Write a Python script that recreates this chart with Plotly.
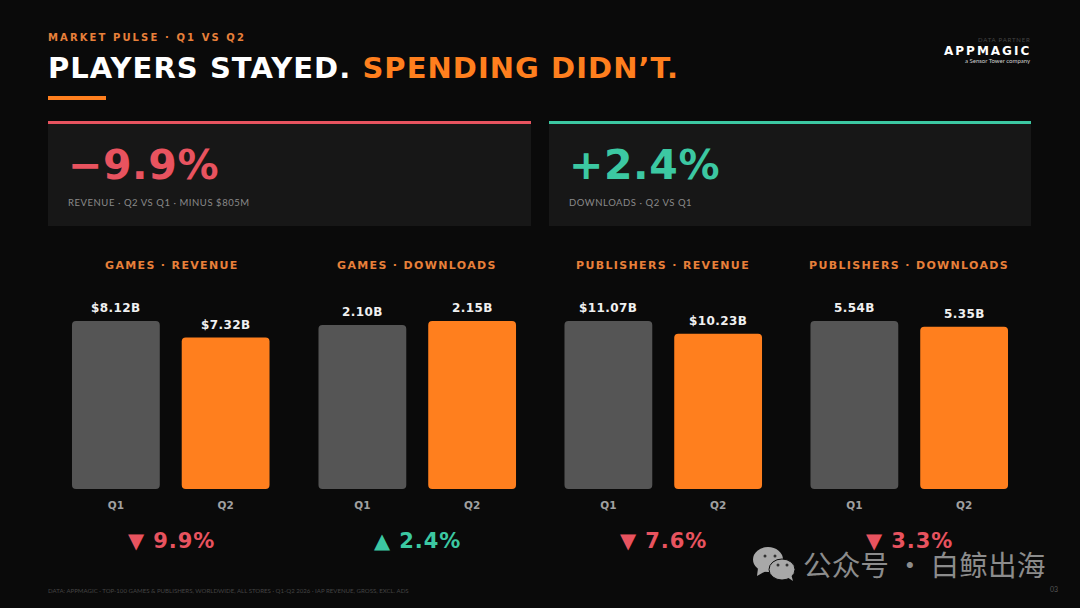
import plotly.graph_objects as go

W = 1080
H = 608

BG = "#0a0a0a"
CARD = "#171717"
ORANGE = "#ff7f1e"
GREY_BAR = "#555555"
RED = "#e8535f"
TEAL = "#3cc8a2"

quarters = ["Q1", "Q2"]
panel_titles = ["GAMES · REVENUE", "GAMES · DOWNLOADS", "PUBLISHERS · REVENUE", "PUBLISHERS · DOWNLOADS"]
games_revenue = [8.12, 7.32]
games_downloads = [2.10, 2.15]
publishers_revenue = [11.07, 10.23]
publishers_downloads = [5.54, 5.35]
games_revenue_labels = ["$8.12B", "$7.32B"]
games_downloads_labels = ["2.10B", "2.15B"]
publishers_revenue_labels = ["$11.07B", "$10.23B"]
publishers_downloads_labels = ["5.54B", "5.35B"]
delta_labels = ["▼ 9.9%", "▲ 2.4%", "▼ 7.6%", "▼ 3.3%"]

panels = [
    (games_revenue, games_revenue_labels, 61),
    (games_downloads, games_downloads_labels, 307.5),
    (publishers_revenue, publishers_revenue_labels, 553.5),
    (publishers_downloads, publishers_downloads_labels, 799.5),
]
PANEL_W = 219.5
BAR_TOP = 321
BAR_BOTTOM = 489


def px_x(x):
    return x / W


def px_y(y):
    return 1 - y / H


def tracked(text, spacing):
    return f'<span style="letter-spacing:{spacing}px">{text}</span>'


def note(x, y, text, size, color, anchor="left", family="DejaVu Sans", bold=True):
    return dict(
        x=px_x(x), y=px_y(y), xref="paper", yref="paper", text=text, showarrow=False,
        xanchor=anchor, yanchor="middle", borderpad=0,
        font=dict(family=family, size=size, color=color, weight="bold" if bold else "normal"),
    )


def box(x0, y0, x1, y1, color):
    return dict(type="rect", xref="paper", yref="paper", x0=px_x(x0), x1=px_x(x1),
                y0=px_y(y0), y1=px_y(y1), fillcolor=color, line_width=0, layer="below")


def dot(x0, y0, x1, y1, color, edge=None):
    return dict(type="circle", xref="paper", yref="paper", x0=px_x(x0), x1=px_x(x1),
                y0=px_y(y0), y1=px_y(y1), fillcolor=color,
                line=dict(color=edge or color, width=1 if edge else 0), layer="above")


def tail(points, color):
    path = "M " + " L ".join(f"{px_x(x)} {px_y(y)}" for x, y in points) + " Z"
    return dict(type="path", xref="paper", yref="paper", path=path, fillcolor=color,
                line_width=0, layer="above")


fig = go.Figure()
layout_axes = {}
annotations = []

for i, (values, labels, left) in enumerate(panels):
    suffix = "" if i == 0 else str(i + 1)
    # an explicit base makes plotly round both ends of the bar
    fig.add_trace(go.Bar(
        x=quarters, y=values, base=[0, 0],
        marker=dict(color=[GREY_BAR, ORANGE], cornerradius=4, line_width=0),
        xaxis="x" + suffix, yaxis="y" + suffix, showlegend=False,
    ))
    for quarter, value, label in zip(quarters, values, labels):
        annotations.append(dict(
            x=quarter, y=value, xref="x" + suffix, yref="y" + suffix, text=tracked(label, 0.4),
            showarrow=False, yanchor="middle", yshift=13,
            font=dict(family="DejaVu Sans", size=12, color="#f0f0f0", weight="bold"),
        ))
    layout_axes["xaxis" + suffix] = dict(
        domain=[px_x(left), px_x(left + PANEL_W)], anchor="y" + suffix,
        showgrid=False, zeroline=False, showline=False, ticks="", ticklen=0,
        ticklabelstandoff=8,
        tickfont=dict(family="DejaVu Sans", size=10.5, color="#a0a0a0", weight="bold"),
    )
    layout_axes["yaxis" + suffix] = dict(
        domain=[px_y(BAR_BOTTOM), px_y(BAR_TOP)], anchor="x" + suffix,
        range=[0, max(values)], visible=False,
    )

shapes = [
    box(48, 96, 106, 100, ORANGE),
    box(48, 124, 531, 226, CARD),
    box(48, 121, 531, 124, RED),
    box(549, 124, 1031, 226, CARD),
    box(549, 121, 1031, 124, TEAL),
]

annotations += [
    note(47, 37.5, tracked("MARKET PULSE · Q1 VS Q2", 2.1), 10, "#e8803a"),
    note(47, 68, tracked('PLAYERS STAYED. <span style="color:#ff7f1e">SPENDING DIDN’T.</span>', 1.05), 29, "#ffffff"),
    note(67, 165, tracked("−9.9%", 0.6), 41, RED),
    note(67, 202, tracked("REVENUE · Q2 VS Q1 · MINUS $805M", 0.55), 9.5, "#8a8a8a", family="Lato", bold=False),
    note(568, 165, tracked("+2.4%", 0.6), 41, TEAL),
    note(568, 202, tracked("DOWNLOADS · Q2 VS Q1", 0.55), 9.5, "#8a8a8a", family="Lato", bold=False),
    note(1032, 40, tracked("DATA PARTNER", 0.8), 6, "#444444", anchor="right", family="Lato", bold=False),
    note(1032, 51, tracked("APPMAGIC", 2), 12, "#ffffff", anchor="right"),
    note(1032, 60, "a Sensor Tower company", 6, "#d0d0d0", anchor="right", family="Lato", bold=False),
    note(47, 590, "DATA: APPMAGIC · TOP-100 GAMES & PUBLISHERS, WORLDWIDE, ALL STORES · Q1-Q2 2026 · IAP REVENUE, GROSS, EXCL. ADS",
         6.1, "#444444", family="Lato", bold=False),
    note(1059, 589, "03", 7, "#555555", anchor="right", family="Lato", bold=False),
]

title_centers = [171.5, 417, 663, 909]
delta_colors = [RED, TEAL, RED, RED]
for center, title, delta, color in zip(title_centers, panel_titles, delta_labels, delta_colors):
    annotations.append(note(center, 265.5, tracked(title, 1.35), 11, "#e8803a", anchor="center"))
    annotations.append(note(center, 541, tracked(delta, 0.9), 21, color, anchor="center"))

# watermark sitting on top of the slide
annotations.append(note(802, 563.5, "公众号 · 白鲸出海", 28.7, "#8c8c8c", family="Noto Sans CJK SC", bold=False))
ICON = "#a8a8a8"
shapes += [
    dot(753, 547, 783, 572, ICON),
    tail([(758, 568), (757, 576), (766, 571)], ICON),
    dot(769, 559, 795, 580, ICON, edge=BG),
    tail([(787, 577), (793, 581), (791, 574)], ICON),
]
for x, y in [(765, 556), (775, 556), (778, 565), (787, 565)]:
    shapes.append(dot(x - 1.5, y - 1.5, x + 1.5, y + 1.5, "#333333"))

fig.update_layout(
    width=W, height=H, margin=dict(l=0, r=0, t=0, b=0),
    paper_bgcolor=BG, plot_bgcolor=BG,
    barmode="overlay", bargap=0.2,
    shapes=shapes, annotations=annotations,
    **layout_axes,
)

fig.write_html("out.html", config={"displayModeBar": False},
               post_script="document.body.style.margin='0';")
